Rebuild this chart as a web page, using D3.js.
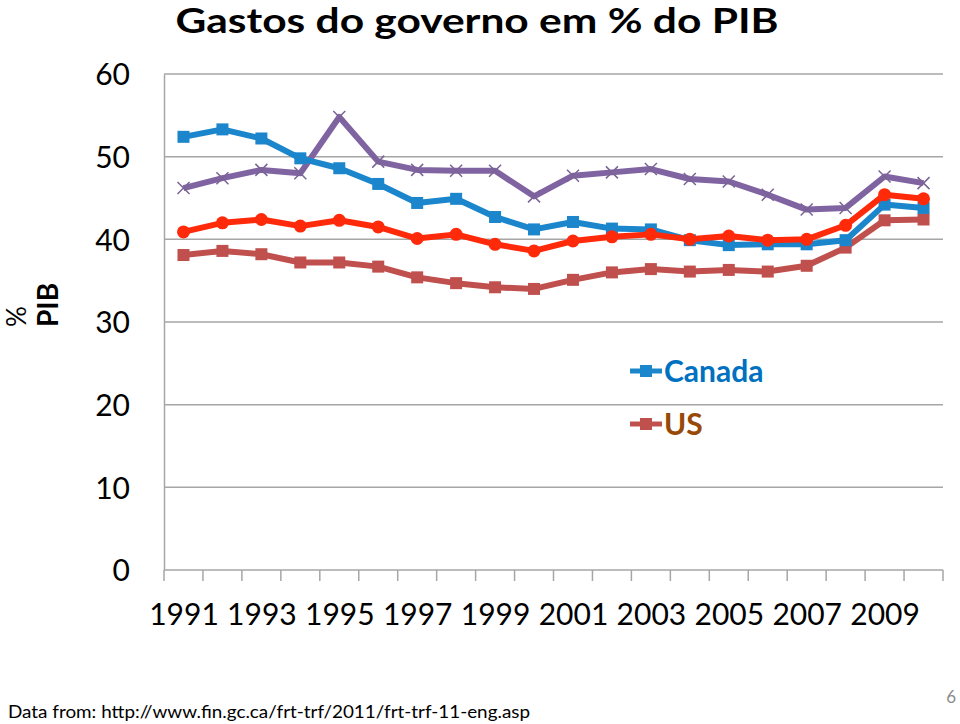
<!DOCTYPE html>
<html><head><meta charset="utf-8">
<script src="https://cdn.jsdelivr.net/npm/d3@7"></script>
<style>body{margin:0;background:#fff}svg{display:block}</style>
</head><body>
<script>
const years = d3.range(1991, 2011).map(String);
const tickYears = ["1991","1993","1995","1997","1999","2001","2003","2005","2007","2009"];
const yTicks = [0,10,20,30,40,50,60];
const canada = [52.4,53.3,52.2,49.8,48.6,46.7,44.4,44.9,42.7,41.2,42.1,41.3,41.2,39.9,39.3,39.4,39.4,39.9,44.2,43.8];
const us     = [38.1,38.6,38.2,37.2,37.2,36.7,35.4,34.7,34.2,34.0,35.1,36.0,36.4,36.1,36.3,36.1,36.8,39.0,42.3,42.4];
const redSeries = [40.9,42.0,42.4,41.6,42.3,41.5,40.1,40.6,39.4,38.6,39.8,40.3,40.6,40.0,40.4,39.9,40.0,41.7,45.4,44.9];
const purpleSeries = [46.2,47.4,48.4,48.0,54.8,49.4,48.4,48.3,48.3,45.2,47.7,48.1,48.5,47.3,47.0,45.4,43.6,43.8,47.6,46.8];

const W=960,H=724;
const svg=d3.select("body").append("svg").attr("width",W).attr("height",H);
const L=164,R=943,T=74,B=570;
const xb=d3.scaleBand().domain(years).range([L,R]);
const x=d3.scalePoint().domain(years).range([L,R]).padding(0.5);
const y=d3.scaleLinear().domain([0,60]).range([B,T]);
const font="Lato, 'Open Sans', sans-serif";

// title
svg.append("text").attr("x",477).attr("y",33).attr("text-anchor","middle")
  .attr("font-family",font).attr("font-weight","bold").attr("font-size",35)
  .attr("textLength",603).attr("lengthAdjust","spacingAndGlyphs")
  .text("Gastos do governo em % do PIB");

// gridlines
svg.append("g").selectAll("line").data(yTicks.filter(d=>d>0)).join("line")
  .attr("x1",L).attr("x2",R).attr("y1",d=>y(d)).attr("y2",d=>y(d))
  .attr("stroke","#a6a6a6").attr("stroke-width",1.5);
// y axis
const ya=svg.append("g").attr("transform",`translate(${L},0)`)
  .call(d3.axisLeft(y).tickValues(yTicks).tickSize(0).tickPadding(34));
ya.select(".domain").attr("stroke","#a6a6a6").attr("stroke-width",1.5);
ya.selectAll("text").attr("font-family",font).attr("font-size",30).attr("fill","#000").attr("dy","0.36em");
// x axis
const xa=svg.append("g").attr("transform",`translate(0,${B})`)
  .call(d3.axisBottom(x).tickValues(tickYears).tickSize(0).tickPadding(34));
xa.select(".domain").attr("stroke","#a6a6a6").attr("stroke-width",1.5).attr("d",`M${L},0H${R}`);
xa.selectAll("text").attr("font-family",font).attr("font-size",30).attr("fill","#000");
svg.append("g").selectAll("line").data(years.concat(["end"])).join("line")
  .attr("x1",d=>d==="end"?R:xb(d)).attr("x2",d=>d==="end"?R:xb(d))
  .attr("y1",B).attr("y2",B+11).attr("stroke","#a6a6a6").attr("stroke-width",1.5);

// y label
const yl=svg.append("text").attr("transform","translate(0,327) rotate(-90)")
  .attr("font-family",font).attr("font-size",26);
yl.append("tspan").attr("x",0).attr("y",26).text("%");
yl.append("tspan").attr("x",0).attr("y",58).attr("font-size",28).attr("font-weight","bold").text("PIB");

const line=d3.line().x((d,i)=>x(years[i])).y(d=>y(d));
const series=[
  {name:"purple",vals:purpleSeries,color:"#8064a2",marker:"x"},
  {name:"Canada",vals:canada,color:"#1c86cc",marker:"square"},
  {name:"red",vals:redSeries,color:"#ff2a0a",marker:"circle"},
  {name:"US",vals:us,color:"#c0504d",marker:"square"}
];
const drawOrder=[series[0],series[3],series[1],series[2]];
drawOrder.forEach(s=>{
  const g=svg.append("g");
  g.append("path").attr("d",line(s.vals)).attr("fill","none")
   .attr("stroke",s.color).attr("stroke-width",6).attr("stroke-linejoin","round");
  const pts=g.selectAll("g").data(s.vals).join("g")
    .attr("transform",(d,i)=>`translate(${x(years[i])},${y(d)})`);
  if(s.marker==="square") pts.append("rect").attr("x",-6).attr("y",-6).attr("width",12).attr("height",12).attr("fill",s.color);
  else if(s.marker==="circle") pts.append("circle").attr("r",6.5).attr("fill",s.color);
  else pts.append("path").attr("d","M-6,-6L6,6M-6,6L6,-6").attr("stroke","#7a6396").attr("stroke-width",1.5);
});

// legend
const leg=[{s:series[1],y:371,text:"Canada",tc:"#0070c0"},{s:series[3],y:424,text:"US",tc:"#984807"}];
leg.forEach(l=>{
  svg.append("line").attr("x1",630).attr("x2",662).attr("y1",l.y).attr("y2",l.y)
    .attr("stroke",l.s.color).attr("stroke-width",5);
  svg.append("rect").attr("x",640).attr("y",l.y-6).attr("width",12).attr("height",12).attr("fill",l.s.color);
  svg.append("text").attr("x",664).attr("y",l.y+11).attr("font-family",font).attr("font-size",30)
    .attr("font-weight","bold").attr("fill",l.tc).text(l.text);
});

// footer
svg.append("text").attr("x",8).attr("y",718).attr("font-family",font).attr("font-size",18)
  .attr("textLength",522).attr("lengthAdjust","spacingAndGlyphs")
  .text("Data from: http://www.fin.gc.ca/frt-trf/2011/frt-trf-11-eng.asp");
svg.append("text").attr("x",956).attr("y",703).attr("text-anchor","end").attr("font-family",font)
  .attr("font-size",17).attr("fill","#8c8c8c").text("6");
</script>
</body></html>
